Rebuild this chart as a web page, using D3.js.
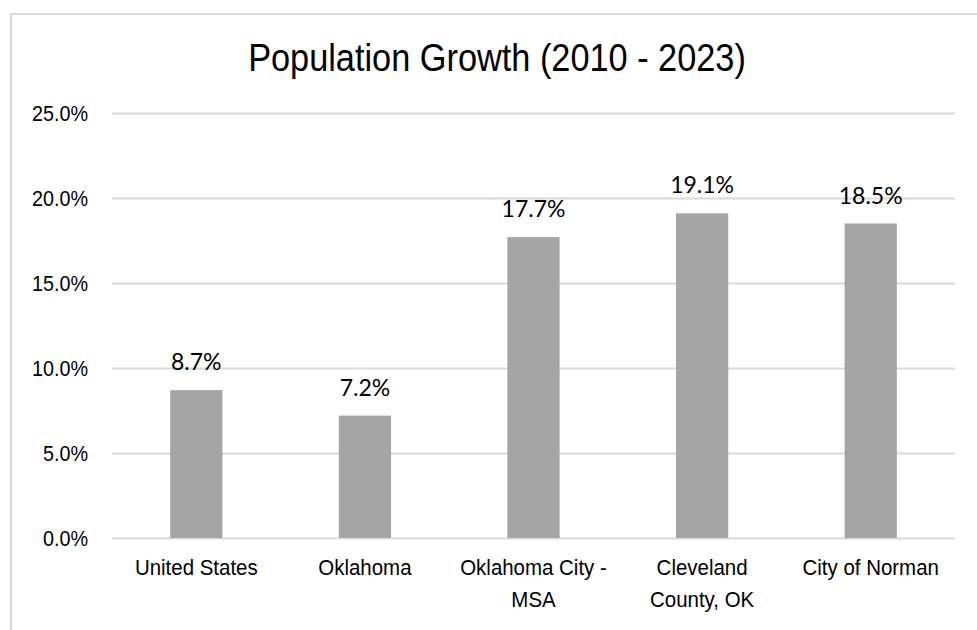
<!DOCTYPE html>
<html>
<head>
<meta charset="utf-8">
<script src="https://cdn.jsdelivr.net/npm/d3@7"></script>
<style>
  body { margin: 0; background: #fff; }
  .plot { width: 977px; height: 630px; }
  .narrow { font-family: "Liberation Sans", Arial, sans-serif; }
</style>
</head>
<body>
<div class="plot" id="chart"></div>
<script>
var categories = [['United States'], ['Oklahoma'], ['Oklahoma City -', 'MSA'], ['Cleveland', 'County, OK'], ['City of Norman']];
var growth = [8.7, 7.2, 17.7, 19.1, 18.5];
var yTicks = [0, 5, 10, 15, 20, 25];

var W = 977, H = 630,
    m = {t: 113, r: 22, b: 92, l: 112},
    w = W - m.l - m.r,
    h = H - m.t - m.b;

var svg = d3.select('#chart').append('svg')
    .attr('width', W)
    .attr('height', H);

// outer frame, cut off on the right/bottom like the original screenshot
svg.append('rect')
    .attr('x', 11).attr('y', 14)
    .attr('width', W).attr('height', H)
    .attr('fill', 'none')
    .attr('stroke', '#d9d9d9')
    .attr('stroke-width', 2);

// narrow look: squeeze Liberation Sans horizontally
svg.append('g')
    .attr('transform', 'translate(497,71) scale(0.88,1)')
  .append('text')
    .attr('class', 'narrow')
    .attr('text-anchor', 'middle')
    .style('font-size', '39px')
    .attr('fill', '#000')
    .text('Population Growth (2010 - 2023)');

var plot = svg.append('g')
    .attr('transform', 'translate(' + m.l + ',' + m.t + ')');

var x = d3.scaleBand()
    .domain(d3.range(categories.length))
    .range([0, w])
    .paddingInner(0.69)
    .paddingOuter(0.345);

var y = d3.scaleLinear()
    .domain([0, 25])
    .range([h, 0]);

// gridlines + y labels
var yAxis = plot.append('g')
    .call(d3.axisLeft(y).tickValues(yTicks).tickSize(-w).tickFormat(function(d){ return d.toFixed(1) + '%'; }));
yAxis.select('.domain').remove();
yAxis.selectAll('.tick line').attr('stroke', '#d9d9d9').attr('stroke-width', 2);
yAxis.selectAll('.tick text').remove();
yAxis.selectAll('.tick').append('g')
    .attr('transform', 'translate(-24,0) scale(0.9,1)')
  .append('text')
    .attr('class', 'narrow')
    .attr('text-anchor', 'end')
    .attr('dy', '0.35em')
    .style('font-size', '22px')
    .attr('fill', '#000')
    .text(function(d){ return d.toFixed(1) + '%'; });

plot.selectAll('rect.bar')
    .data(growth)
    .enter()
    .append('rect')
    .attr('class', 'bar')
    .attr('x', function(d, i){ return x(i); })
    .attr('width', x.bandwidth())
    .attr('y', function(d){ return y(d); })
    .attr('height', function(d){ return h - y(d); })
    .attr('fill', '#a5a5a5');

plot.selectAll('text.val')
    .data(growth)
    .enter()
    .append('text')
    .attr('class', 'val')
    .attr('x', function(d, i){ return x(i) + x.bandwidth() / 2; })
    .attr('y', function(d){ return y(d) - 20; })
    .attr('text-anchor', 'middle')
    .style('font-family', 'Lato, "Open Sans", sans-serif')
    .style('font-size', '23px')
    .attr('fill', '#000')
    .text(function(d){ return d.toFixed(1) + '%'; });

// category labels
var cat = plot.selectAll('g.cat')
    .data(categories)
    .enter()
    .append('g')
    .attr('class', 'cat')
    .attr('transform', function(d, i){ return 'translate(' + (x(i) + x.bandwidth() / 2) + ',' + (h + 37) + ') scale(0.93,1)'; })
  .append('text')
    .attr('class', 'narrow')
    .attr('text-anchor', 'middle')
    .style('font-size', '22px')
    .attr('fill', '#000');

cat.selectAll('tspan')
    .data(function(d){ return d; })
    .enter()
    .append('tspan')
    .attr('x', 0)
    .attr('dy', function(d, i){ return i === 0 ? 0 : 32; })
    .text(function(d){ return d; });
</script>
</body>
</html>
